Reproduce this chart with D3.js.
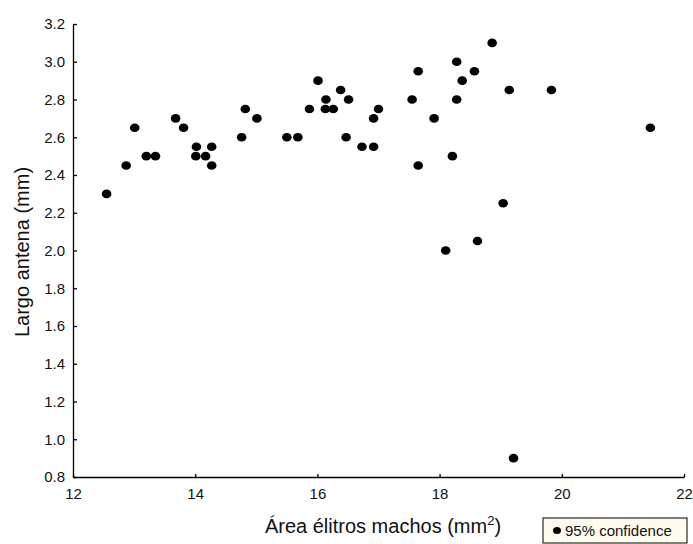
<!DOCTYPE html>
<html>
<head>
<meta charset="utf-8">
<script src="https://cdn.jsdelivr.net/npm/d3@7"></script>
<style>
  body { margin: 0; background: #fff; }
  svg { font-family: "Liberation Sans", Arial, sans-serif; }
  .axis path, .axis line { stroke: #000; stroke-width: 1.3; }
  .axis text { font-size: 15px; fill: #111; }
</style>
</head>
<body>
<svg width="693" height="544"></svg>
<script>
// wing area (mm2) vs antenna length (mm)
let area = [12.55, 12.87, 13.01, 13.20, 13.35, 13.68, 13.81, 14.02, 14.27, 14.01,
            14.17, 14.27, 14.76, 14.82, 15.01, 15.50, 15.68, 16.01, 15.87, 16.14,
            16.13, 16.26, 16.38, 16.51, 16.47, 16.73, 16.92, 16.92, 17.00, 17.55,
            17.65, 17.65, 17.91, 18.86, 18.28, 18.57, 18.37, 18.28, 19.14, 19.83,
            18.21, 19.04, 18.62, 18.10, 21.45, 19.21];
let antena = [2.30, 2.45, 2.65, 2.50, 2.50, 2.70, 2.65, 2.55, 2.55, 2.50,
              2.50, 2.45, 2.60, 2.75, 2.70, 2.60, 2.60, 2.90, 2.75, 2.80,
              2.75, 2.75, 2.85, 2.80, 2.60, 2.55, 2.55, 2.70, 2.75, 2.80,
              2.95, 2.45, 2.70, 3.10, 3.00, 2.95, 2.90, 2.80, 2.85, 2.85,
              2.50, 2.25, 2.05, 2.00, 2.65, 0.90];
let xTicks = [12, 14, 16, 18, 20, 22];
let yTicks = [0.8, 1.0, 1.2, 1.4, 1.6, 1.8, 2.0, 2.2, 2.4, 2.6, 2.8, 3.0, 3.2];

let data = area.map(function(a, i) { return {x: a, y: antena[i]}; });

let svg = d3.select("svg"),
    margin = {top: 24, right: 9, bottom: 67, left: 73},
    width = +svg.attr("width") - margin.left - margin.right,
    height = +svg.attr("height") - margin.top - margin.bottom;

let g = svg.append("g")
  .attr("transform", "translate(" + margin.left + "," + margin.top + ")");

let x = d3.scaleLinear().domain([12, 22]).range([0, width]);
let y = d3.scaleLinear().domain([0.8, 3.2]).range([height, 0]);

// x-axis, ticks pointing inward
g.append("g")
    .attr("class", "axis axis--x")
    .attr("transform", "translate(0," + height + ")")
    .call(d3.axisBottom(x).tickValues(xTicks).tickSize(-3).tickSizeOuter(0).tickPadding(9)
      .tickFormat(d3.format("d")))
  .selectAll("text").attr("dy", "0.85em");

// y-axis
g.append("g")
    .attr("class", "axis axis--y")
    .call(d3.axisLeft(y).tickValues(yTicks).tickSize(-4).tickSizeOuter(0).tickPadding(8)
      .tickFormat(d3.format(".1f")));

g.selectAll(".axis path").attr("stroke-width", 1.6);

// points
g.selectAll(".dot")
    .data(data)
  .enter().append("ellipse")
    .attr("class", "dot")
    .attr("cx", function(d) { return x(d.x); })
    .attr("cy", function(d) { return y(d.y); })
    .attr("rx", 4.8)
    .attr("ry", 4.3)
    .attr("fill", "#000");

// axis titles
let xTitle = svg.append("text")
    .attr("x", 383)
    .attr("y", 533)
    .attr("text-anchor", "middle")
    .attr("font-size", "20px")
    .attr("fill", "#111");
xTitle.append("tspan").text("Área élitros machos (mm");
xTitle.append("tspan").attr("font-size", "13px").attr("dy", "-8").text("2");
xTitle.append("tspan").attr("dy", "8").text(")");

svg.append("text")
    .attr("transform", "translate(29,252) rotate(-90)")
    .attr("text-anchor", "middle")
    .attr("font-size", "20px")
    .attr("fill", "#111")
    .text("Largo antena (mm)");

// legend
let legend = svg.append("g").attr("transform", "translate(543,518)");
legend.append("rect")
    .attr("width", 144)
    .attr("height", 25)
    .attr("fill", "#fffaee")
    .attr("stroke", "#000")
    .attr("stroke-width", 1);
legend.append("ellipse")
    .attr("cx", 14)
    .attr("cy", 12.5)
    .attr("rx", 4)
    .attr("ry", 3.5)
    .attr("fill", "#000");
legend.append("text")
    .attr("x", 22)
    .attr("y", 18)
    .attr("font-size", "15px")
    .attr("fill", "#111")
    .text("95% confidence");
</script>
</body>
</html>
